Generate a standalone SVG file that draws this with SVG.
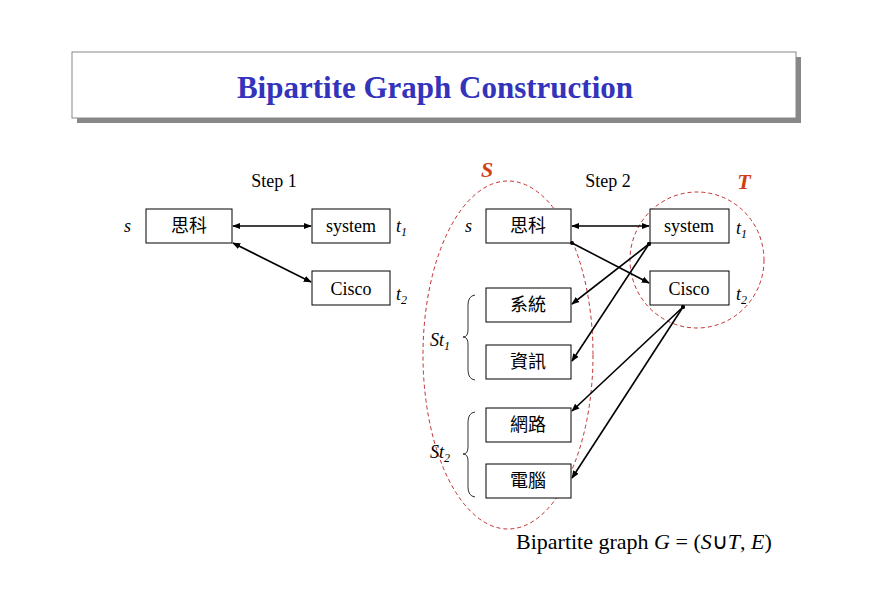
<svg xmlns="http://www.w3.org/2000/svg" width="870" height="600" viewBox="0 0 870 600">
<style>
.b{fill:#fff;stroke:#000;stroke-width:1}
.t{font-family:"Liberation Serif","Noto Sans CJK TC",serif;font-size:18px;text-anchor:middle}
.i{font-family:"Liberation Serif",serif;font-style:italic;font-size:18px}
.c{stroke:#000;stroke-width:1.6;fill:none;marker-end:url(#a);marker-start:url(#d)}
.c2{marker-start:url(#a2)}
.e{fill:none;stroke:#c03030;stroke-width:1;stroke-dasharray:4,3}
</style>
<defs>
<marker id="a" viewBox="0 0 10 10" refX="9" refY="5" markerWidth="5" markerHeight="5" orient="auto"><path d="M0,1L10,5L0,9z"/></marker>
<marker id="d" viewBox="0 0 10 10" refX="5" refY="5" markerWidth="3" markerHeight="3"><circle cx="5" cy="5" r="4"/></marker>
<marker id="a2" viewBox="0 0 10 10" refX="1" refY="5" markerWidth="5" markerHeight="5" orient="auto"><path d="M10,1L0,5L10,9z"/></marker>
</defs>
<rect width="870" height="600" fill="#fff"/>
<g id="title">
<rect x="77" y="57" width="724" height="66" fill="#888"/>
<rect x="72" y="52" width="724" height="66" fill="#fff" stroke="#888"/>
<text x="435" y="98" font-family="Liberation Serif,serif" font-size="31" font-weight="bold" fill="#3333bb" text-anchor="middle">Bipartite Graph Construction</text>
</g>
<g id="ellipses">
<ellipse class="e" cx="508" cy="355" rx="85" ry="174"/>
<ellipse class="e" cx="697" cy="260" rx="67" ry="68"/>
<text x="487" y="177" font-family="Liberation Serif,serif" font-style="italic" font-weight="bold" font-size="22" fill="#d04010" text-anchor="middle">S</text>
<text x="744" y="189" font-family="Liberation Serif,serif" font-style="italic" font-weight="bold" font-size="22" fill="#d04010" text-anchor="middle">T</text>
</g>
<text class="t" x="274" y="187">Step 1</text>
<text class="t" x="608" y="187">Step 2</text>
<g id="s1-s"><rect class="b" x="146" y="209" width="86" height="34"/><text class="t" x="189" y="232">思科</text><text class="i" x="124" y="232">s</text></g>
<g id="s1-system"><rect class="b" x="312" y="209" width="78" height="34"/><text class="t" x="351" y="232">system</text><text class="i" x="396" y="232">t<tspan font-size="12" dy="4">1</tspan></text></g>
<g id="s1-cisco"><rect class="b" x="312" y="271" width="78" height="34"/><text class="t" x="351" y="295">Cisco</text><text class="i" x="396" y="300">t<tspan font-size="12" dy="4">2</tspan></text></g>
<g id="s2-s"><rect class="b" x="486" y="209" width="85" height="34"/><text class="t" x="528" y="232">思科</text><text class="i" x="465" y="232">s</text></g>
<g id="s2-system"><rect class="b" x="650" y="209" width="79" height="34"/><text class="t" x="689" y="232">system</text><text class="i" x="736" y="234">t<tspan font-size="12" dy="4">1</tspan></text></g>
<g id="s2-cisco"><rect class="b" x="650" y="271" width="79" height="34"/><text class="t" x="689" y="295">Cisco</text><text class="i" x="736" y="300">t<tspan font-size="12" dy="4">2</tspan></text></g>
<g id="n1"><rect class="b" x="486" y="288" width="85" height="34"/><text class="t" x="528" y="311">系統</text></g>
<g id="n2"><rect class="b" x="486" y="345" width="85" height="34"/><text class="t" x="528" y="368">資訊</text></g>
<g id="n3"><rect class="b" x="486" y="408" width="85" height="34"/><text class="t" x="528" y="431">網路</text></g>
<g id="n4"><rect class="b" x="486" y="464" width="85" height="34"/><text class="t" x="528" y="487">電腦</text></g>
<g id="braces" fill="none" stroke="#000" stroke-width="0.8">
<path d="M475,295 Q468,296 468,305 L468,330 Q468,337 463,337 Q468,337 468,344 L468,370 Q468,379 475,380"/>
<path d="M475,412 Q468,413 468,422 L468,447 Q468,454 463,454 Q468,454 468,461 L468,487 Q468,496 475,497"/>
<text class="i" x="430" y="346" stroke="none" fill="#000">St<tspan font-size="12" dy="4">1</tspan></text>
<text class="i" x="430" y="458" stroke="none" fill="#000">St<tspan font-size="12" dy="4">2</tspan></text>
</g>
<g id="connectors">
<path class="c c2" d="M233,226 L311,226"/>
<path class="c c2" d="M233,243 L311,282"/>
<path class="c c2" d="M572,226 L649,226"/>
<path class="c" d="M572,243 L649,283"/>
<path class="c" d="M649,244 L572,304"/>
<path class="c" d="M649,244 L572,361"/>
<path class="c" d="M683,307 L572,411"/>
<path class="c" d="M683,307 L572,478"/>
</g>
<text x="516" y="549" font-family="Liberation Serif,serif" font-size="22">Bipartite graph <tspan font-style="italic">G</tspan> = (<tspan font-style="italic">S</tspan>∪<tspan font-style="italic">T</tspan>, <tspan font-style="italic">E</tspan>)</text>
</svg>
